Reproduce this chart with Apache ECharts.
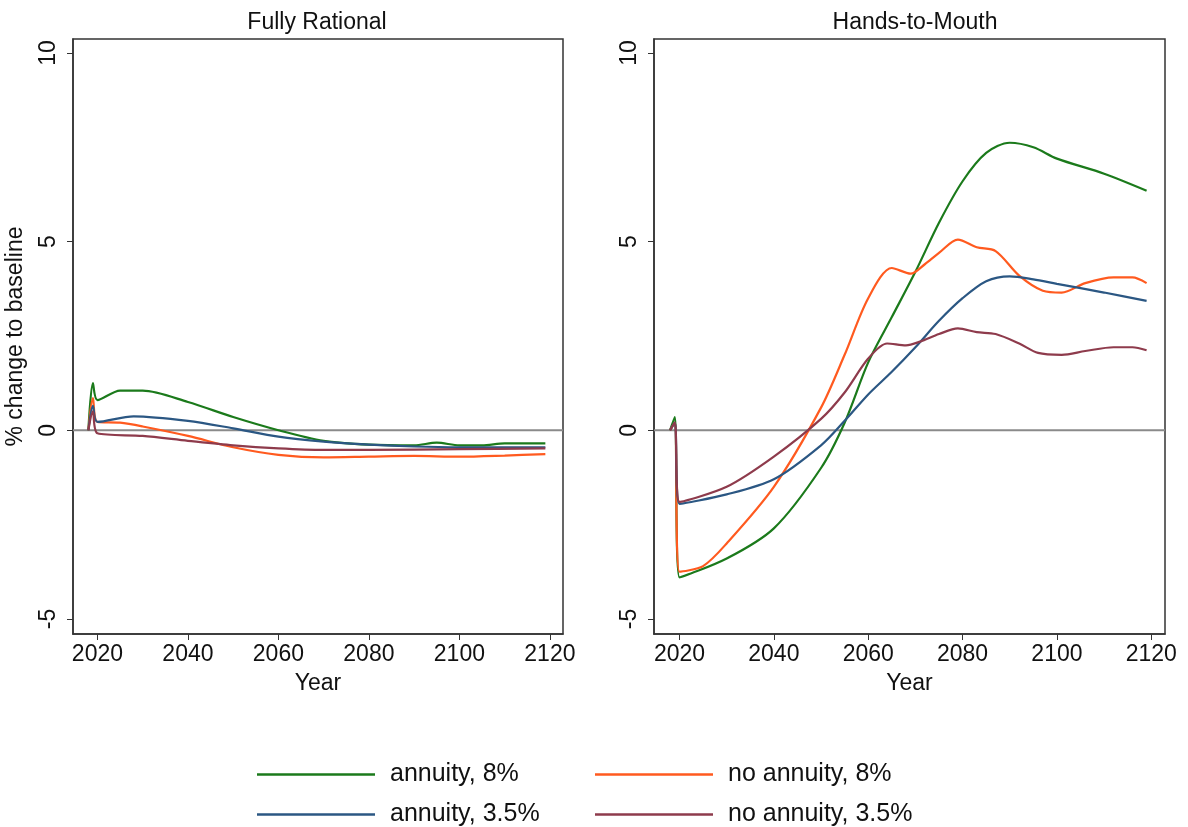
<!DOCTYPE html>
<html><head><meta charset="utf-8">
<script src="https://cdn.jsdelivr.net/npm/echarts@6/dist/echarts.min.js"></script>
<style>html,body{margin:0;padding:0;background:#fff}#c{width:1188px;height:827px}</style>
</head><body><div id="c"></div>
<script>
const seriesNames = ['annuity, 8%', 'no annuity, 8%', 'annuity, 3.5%', 'no annuity, 3.5%'];
const colors = ['#1b7a1b', '#ff5a1f', '#2b5783', '#8e3b4c'];
const yTicks = [-5, 0, 5, 10];
const xTicks = [2020, 2040, 2060, 2080, 2100, 2120];
// Fully Rational
const frAnn8 = [[2018,0],[2019,1.25],[2020,0.8],[2025,1.05],[2030,1.05],[2040,0.75],[2050,0.35],[2060,0.0],[2070,-0.28],[2080,-0.38],[2090,-0.4],[2095,-0.33],[2100,-0.4],[2105,-0.4],[2110,-0.35],[2119,-0.35]];
const frNoAnn8 = [[2018,0],[2019,0.85],[2020,0.22],[2025,0.2],[2030,0.1],[2040,-0.15],[2050,-0.45],[2060,-0.65],[2070,-0.72],[2080,-0.7],[2090,-0.68],[2100,-0.7],[2110,-0.67],[2119,-0.63]];
const frAnn35 = [[2018,0],[2019,0.65],[2020,0.22],[2028,0.37],[2040,0.25],[2050,0.05],[2060,-0.17],[2070,-0.3],[2080,-0.38],[2090,-0.43],[2100,-0.45],[2119,-0.45]];
const frNoAnn35 = [[2018,0],[2019,0.5],[2020,-0.08],[2030,-0.15],[2040,-0.28],[2050,-0.4],[2060,-0.48],[2070,-0.52],[2080,-0.52],[2100,-0.5],[2119,-0.48]];
// Hands-to-Mouth
const htmAnn8 = [[2018,0],[2019,0.35],[2020,-3.9],[2030,-3.4],[2040,-2.6],[2050,-1.0],[2055,0.2],[2060,1.8],[2065,3.0],[2070,4.2],[2075,5.5],[2080,6.6],[2085,7.35],[2090,7.62],[2095,7.5],[2100,7.2],[2110,6.8],[2119,6.35]];
const htmNoAnn8 = [[2018,0],[2019,0.2],[2020,-3.75],[2025,-3.6],[2030,-3.0],[2040,-1.5],[2050,0.6],[2055,2.0],[2060,3.5],[2065,4.3],[2069,4.15],[2072,4.4],[2075,4.7],[2079,5.05],[2083,4.85],[2087,4.75],[2092,4.1],[2097,3.7],[2101,3.65],[2106,3.9],[2112,4.05],[2116,4.05],[2119,3.9]];
const htmAnn35 = [[2018,0],[2019,0.2],[2020,-1.95],[2030,-1.7],[2040,-1.3],[2050,-0.4],[2055,0.25],[2060,0.95],[2065,1.55],[2070,2.2],[2075,2.9],[2080,3.5],[2085,3.95],[2090,4.08],[2095,4.0],[2100,3.88],[2110,3.65],[2119,3.43]];
const htmNoAnn35 = [[2018,0],[2019,0.2],[2020,-1.9],[2030,-1.5],[2040,-0.7],[2050,0.3],[2055,1.0],[2060,1.9],[2064,2.3],[2068,2.25],[2071,2.35],[2075,2.55],[2079,2.7],[2083,2.6],[2087,2.55],[2092,2.3],[2096,2.05],[2101,2.0],[2106,2.1],[2112,2.2],[2116,2.2],[2119,2.12]];

const font = 'Liberation Sans, Arial, sans-serif';
const chart = echarts.init(document.getElementById('c'));
function xAxis(i){return {type:'value',gridIndex:i,min:2014.6,max:2122.9,name:'Year',nameLocation:'middle',nameGap:38,
  nameTextStyle:{fontSize:23,color:'#111',fontFamily:font},
  axisLine:{show:true,onZero:false,lineStyle:{color:'#333',width:1.5}},
  axisTick:{show:true,length:6,customValues:xTicks,lineStyle:{color:'#333'}},
  axisLabel:{customValues:xTicks,formatter:v=>String(v),fontSize:23,color:'#111',fontFamily:font,margin:9},splitLine:{show:false}};}
function yAxis(i,withName){return {type:'value',gridIndex:i,min:-5.4,max:10.37,
  name:withName?'% change to baseline':'',nameLocation:'middle',nameGap:46,nameRotate:90,
  nameTextStyle:{fontSize:23,color:'#111',fontFamily:font},
  axisLine:{show:true,onZero:false,lineStyle:{color:'#333',width:1.5}},
  axisTick:{show:true,length:6,customValues:yTicks,lineStyle:{color:'#333'}},
  axisLabel:{customValues:yTicks,formatter:v=>String(v),rotate:90,fontSize:23,color:'#111',fontFamily:font,margin:24,verticalAlign:'middle',align:'center'},splitLine:{show:false}};}
const panels=[[frAnn8,frNoAnn8,frAnn35,frNoAnn35],[htmAnn8,htmNoAnn8,htmAnn35,htmNoAnn35]];
const series=[];
panels.forEach((p,gi)=>{
  series.push({type:'line',xAxisIndex:gi,yAxisIndex:gi,data:[[2014.6,0],[2122.9,0]],symbol:'none',silent:true,
    lineStyle:{color:'#8a8a8a',width:2},z:1});
  p.forEach((d,si)=>series.push({name:seriesNames[si],type:'line',xAxisIndex:gi,yAxisIndex:gi,data:d,symbol:'none',
    smooth:0.3,lineStyle:{color:colors[si],width:2.2},itemStyle:{color:colors[si]},z:3}));
});
const legPos=[[252,757],[590,757],[252,797],[590,797]];
chart.setOption({
  animation:false,
  title:[{text:'Fully Rational',left:312,top:6,textAlign:'center',textStyle:{fontSize:23,fontWeight:'normal',color:'#111',fontFamily:font}},
         {text:'Hands-to-Mouth',left:910,top:6,textAlign:'center',textStyle:{fontSize:23,fontWeight:'normal',color:'#111',fontFamily:font}}],
  grid:[{left:73,right:625,top:39,bottom:193,show:true,borderColor:'#333',borderWidth:1.5},
        {left:654,right:23,top:39,bottom:193,show:true,borderColor:'#333',borderWidth:1.5}],
  xAxis:[xAxis(0),xAxis(1)],
  yAxis:[yAxis(0,true),yAxis(1,false)],
  legend:seriesNames.map((n,i)=>({data:[{name:n,icon:'rect',itemStyle:{color:colors[i]}}],left:legPos[i][0],top:legPos[i][1],
    itemWidth:118,itemHeight:2.5,itemGap:10,textStyle:{fontSize:25,color:'#111',fontFamily:font,padding:[0,0,0,10]}})),
  series:series
});
</script></body></html>
